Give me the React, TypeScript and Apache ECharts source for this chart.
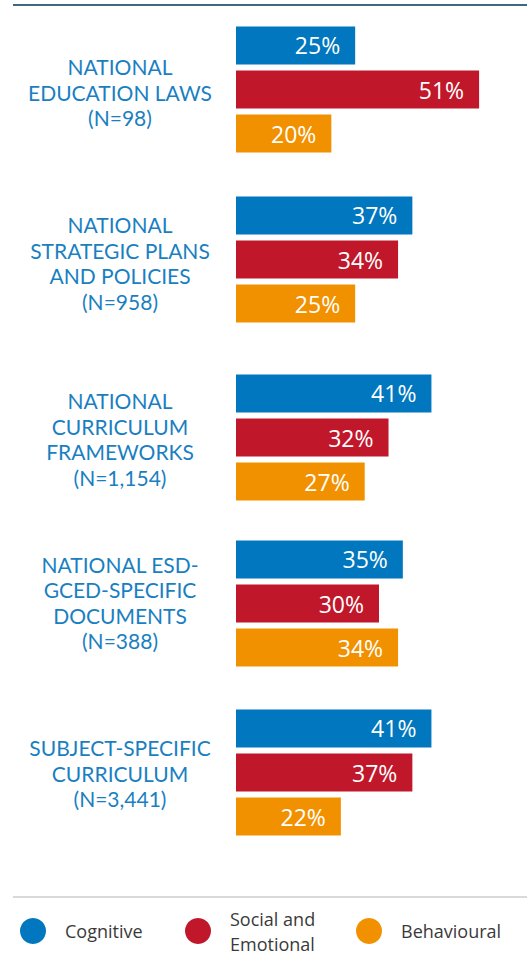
import React, { useEffect, useRef } from "react";
import * as echarts from "echarts";

// ---- Data ----
const categories = [
  "NATIONAL\nEDUCATION LAWS\n(N=98)",
  "NATIONAL\nSTRATEGIC PLANS\nAND POLICIES\n(N=958)",
  "NATIONAL\nCURRICULUM\nFRAMEWORKS\n(N=1,154)",
  "NATIONAL ESD-\nGCED-SPECIFIC\nDOCUMENTS\n(N=388)",
  "SUBJECT-SPECIFIC\nCURRICULUM\n(N=3,441)",
];
const seriesNames = ["Cognitive", "Social and Emotional", "Behavioural"];
const cognitive = [25, 37, 41, 35, 41];
const socialEmotional = [51, 34, 32, 30, 37];
const behavioural = [20, 25, 27, 34, 22];

// ---- Layout / style ----
const W = 527;
const H = 960;
const groupTops = [26, 196, 374, 540, 709];
const groupHeight = 127;
const labelShift = [2.5, 3.5, 1.5, -1, 0.5];
const gridLeft = 236;
const gridWidth = 286;
const labelCenterX = 120;
const colors = ["#0077be", "#c1172b", "#f29100"];
const labelBlue = "#1a7fc1";
const FONT = "'Open Sans', 'Noto Sans', sans-serif";
const LABEL_FONT = "Lato, 'Open Sans', sans-serif";

export default function App() {
  const ref = useRef<HTMLDivElement>(null);

  useEffect(() => {
    if (!ref.current) return;
    const chart = echarts.init(ref.current, null, { renderer: "svg" });
    const values = [cognitive, socialEmotional, behavioural];

    const grids = categories.map((_, i) => ({
      left: gridLeft,
      top: groupTops[i],
      width: gridWidth,
      height: groupHeight,
      containLabel: false,
    }));
    const xAxes = categories.map((_, i) => ({
      type: "value" as const,
      gridIndex: i,
      min: 0,
      max: 60,
      show: false,
    }));
    const yAxes = categories.map((c, i) => ({
      type: "category" as const,
      gridIndex: i,
      data: [c],
      inverse: true,
      axisLine: { show: false },
      axisTick: { show: false },
      splitLine: { show: false },
      axisLabel: { show: false },
    }));
    const series: any[] = [];
    categories.forEach((_, gi) => {
      values.forEach((arr, si) => {
        series.push({
          type: "bar",
          name: seriesNames[si],
          xAxisIndex: gi,
          yAxisIndex: gi,
          data: [arr[gi]],
          barWidth: 38,
          barGap: "16%",
          itemStyle: { color: colors[si] },
          label: {
            show: true,
            position: "insideRight",
            distance: 15,
            formatter: "{c}%",
            color: "#ffffff",
            fontFamily: FONT,
            fontSize: 23,
          },
        });
      });
    });

    const legendY = 931;
    const legendCircles = [33, 198, 369];
    const legendTextX = [65, 230, 401];
    const legendTexts = ["Cognitive", "Social and\nEmotional", "Behavioural"];

    const graphic: any[] = [
      {
        type: "line",
        shape: { x1: 13, y1: 5, x2: W, y2: 5 },
        style: { stroke: "#3b6a7c", lineWidth: 2 },
      },
      {
        type: "line",
        shape: { x1: 13, y1: 897, x2: W, y2: 897 },
        style: { stroke: "#b3b3b3", lineWidth: 1 },
      },
    ];
    categories.forEach((c, i) => {
      graphic.push({
        type: "text",
        x: labelCenterX,
        y: groupTops[i] + groupHeight / 2 + labelShift[i],
        style: {
          text: c,
          fill: labelBlue,
          font: `21px ${LABEL_FONT}`,
          lineHeight: 25.4,
          align: "center",
          verticalAlign: "middle",
        },
      });
    });
    legendCircles.forEach((cx, i) => {
      graphic.push({
        type: "circle",
        shape: { cx, cy: legendY, r: 13 },
        style: { fill: colors[i] },
      });
      graphic.push({
        type: "text",
        x: legendTextX[i],
        y: legendY,
        style: {
          text: legendTexts[i],
          fill: "#3a3a3a",
          font: `18px ${FONT}`,
          lineHeight: 25,
          verticalAlign: "middle",
          align: "left",
        },
      });
    });

    chart.setOption({
      animation: false,
      backgroundColor: "#ffffff",
      grid: grids,
      xAxis: xAxes,
      yAxis: yAxes,
      series,
      graphic,
    });
    return () => chart.dispose();
  }, []);

  return (
    <div
      ref={ref}
      style={{ position: "absolute", left: 0, top: 0, width: W, height: H }}
    />
  );
}
